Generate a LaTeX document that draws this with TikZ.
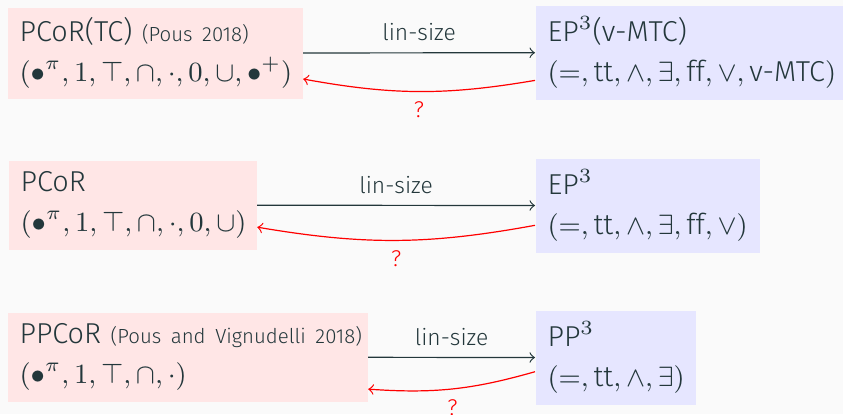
\RequirePackage{fix-cm}
\documentclass[tikz,border=0pt]{standalone}
\usepackage[no-math]{fontspec}
\IfFontExistsTF{Fira Sans Light}{\setmainfont{Fira Sans Light}}{\setmainfont{Fira Sans}}

\definecolor{bgpaper}{HTML}{FAFAFA}
\definecolor{ink}{HTML}{23373B}
\definecolor{pinkfill}{HTML}{FFE6E6}
\definecolor{bluefill}{HTML}{E6E6FF}

\newcommand{\boxfont}{\fontsize{9.6}{13.33}\selectfont}
\newcommand{\mathlinefont}{\fontsize{9.27}{13.33}\selectfont}
\newcommand{\notefont}{\fontsize{7.6}{9}\selectfont}
\newcommand{\citefont}{\fontsize{6.8}{8}\selectfont}
% two unbreakable lines inside a box: a title line and a signature line
\newcommand{\twolines}[2]{\mbox{#1}\\\mbox{\mathlinefont$#2$}}
% upright words inside the signature
\newcommand{\tx}[1]{\mbox{\boxfont #1}}

\begin{document}
\begin{tikzpicture}[x=0.3333pt, y=-0.3333pt, color=ink,
  langbox/.style={anchor=north west, inner xsep=4pt, inner ysep=0pt,
                  align=left, font=\boxfont, text=ink},
  srcbox/.style={langbox, fill=pinkfill},
  tgtbox/.style={langbox, fill=bluefill},
  transl/.style={->, draw=ink},
  back/.style={->, draw=red, bend left=10},
  note/.style={font=\notefont},
]
\fill[bgpaper] (0,0) rectangle (843,414);
\useasboundingbox (0,0) rectangle (843,414);

% row 1
\node[srcbox, text width=90.33pt, minimum height=30.33pt] (a1) at (7,7)
  {\twolines{PCoR(TC) {\citefont(Pous 2018)}}{(\bullet^\pi, 1, \top, \cap, \cdot, 0, \cup, \bullet^+)}};
\node[tgtbox, text width=96.33pt, minimum height=31.33pt] (b1) at (535,5)
  {\twolines{EP$^3$(v-MTC)}{(=, \tx{tt}, \wedge, \exists, \tx{ff}, \vee, \tx{v-MTC})}};

% row 2
\node[srcbox, text width=74.67pt, minimum height=29.67pt] (a2) at (8,160)
  {\twolines{PCoR}{(\bullet^\pi, 1, \top, \cap, \cdot, 0, \cup)}};
\node[tgtbox, text width=66.67pt, minimum height=31.33pt] (b2) at (535,158)
  {\twolines{EP$^3$}{(=, \tx{tt}, \wedge, \exists, \tx{ff}, \vee)}};

% row 3
\node[srcbox, text width=112pt, minimum height=29.67pt] (a3) at (7,312)
  {\twolines{PPCoR {\citefont(Pous and Vignudelli 2018)}}{(\bullet^\pi, 1, \top, \cap, \cdot)}};
\node[tgtbox, text width=45.33pt, minimum height=31.33pt] (b3) at (535,310)
  {\twolines{PP$^3$}{(=, \tx{tt}, \wedge, \exists)}};

% translations and open converse directions
\foreach \i in {1,2,3} {
  \draw[transl] (a\i) -- node[note, above=0.5pt] {lin-size} (b\i);
  \draw[back] (b\i) to node[note, text=red, below=0pt] {?} (a\i);
}
\end{tikzpicture}
\end{document}
